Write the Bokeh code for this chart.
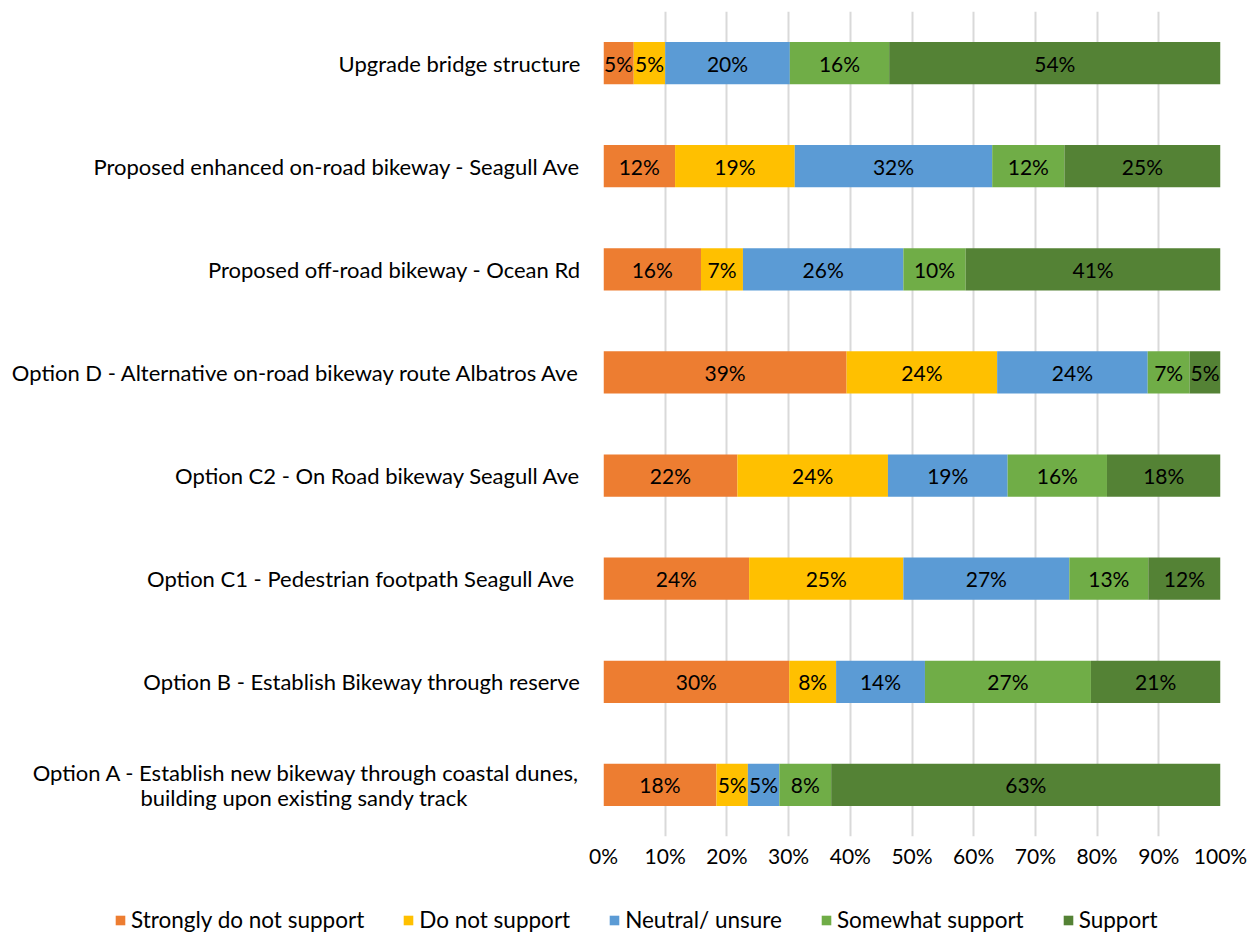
from bokeh.plotting import figure
from bokeh.layouts import column, row
from bokeh.models import (ColumnDataSource, FactorRange, Range1d, FixedTicker,
                          NumeralTickFormatter, Legend, LegendItem)
from bokeh.core.properties import value
from bokeh.embed import file_html
from bokeh.resources import INLINE

# ---- data (top to bottom as shown) ----
categories = [
    "Upgrade bridge structure",
    "Proposed enhanced on-road bikeway - Seagull Ave",
    "Proposed off-road bikeway - Ocean Rd",
    "Option D - Alternative on-road bikeway route Albatros Ave",
    "Option C2 - On Road bikeway Seagull Ave",
    "Option C1 -  Pedestrian footpath Seagull Ave",
    "Option B - Establish Bikeway through reserve",
    "Option A - Establish new bikeway through coastal dunes,\nbuilding upon existing sandy track" + "\u00a0" * 20,
]
series_names = ["Strongly do not support", "Do not support", "Neutral/ unsure",
                "Somewhat support", "Support"]
strongly_not = [4.9, 11.6, 15.8, 39.4, 21.7, 23.6, 30.1, 18.3]
not_support = [5.1, 19.4, 6.8, 24.4, 24.4, 25.0, 7.6, 5.1]
neutral = [20.2, 32.0, 26.0, 24.4, 19.4, 26.9, 14.4, 5.1]
somewhat = [16.1, 11.7, 10.1, 6.8, 16.1, 12.8, 26.9, 8.4]
support = [53.7, 25.3, 41.3, 5.0, 18.4, 11.7, 21.0, 63.1]
x_ticks = [0, 0.1, 0.2, 0.3, 0.4, 0.5, 0.6, 0.7, 0.8, 0.9, 1.0]

colors = ["#ED7D31", "#FFC000", "#5B9BD5", "#70AD47", "#548235"]
FONT = "Lato"
series = [strongly_not, not_support, neutral, somewhat, support]

totals = [sum(s[i] for s in series) for i in range(len(categories))]

p = figure(width=1250, height=880,
           y_range=FactorRange(factors=list(reversed(categories))),
           x_range=Range1d(0, 1),
           output_backend="svg", toolbar_location=None,
           min_border_left=603, min_border_right=30, min_border_top=11,
           min_border_bottom=44)
p.outline_line_color = None
p.background_fill_color = "white"

left = [0.0] * len(categories)
for name, vals, col in zip(series_names, series, colors):
    frac = [v / t for v, t in zip(vals, totals)]
    right = [l + f for l, f in zip(left, frac)]
    src = ColumnDataSource(dict(cat=categories, left=left, right=right,
                                mid=[(l + r) / 2 for l, r in zip(left, right)],
                                lab=[f"{round(v)}%" for v in vals]))
    p.hbar(y="cat", left="left", right="right", height=0.41, source=src,
           fill_color=col, line_color=None)
    p.text(x="mid", y="cat", text="lab", source=src, text_align="center",
           text_baseline="middle", text_font=value(FONT),
           text_font_size="21px", text_color="#000000")
    left = right

# axes
p.xaxis.ticker = FixedTicker(ticks=x_ticks)
p.xaxis.formatter = NumeralTickFormatter(format="0%")
p.xgrid.ticker = FixedTicker(ticks=x_ticks)
p.xgrid.grid_line_color = "#d9d9d9"
p.xgrid.grid_line_width = 2
p.ygrid.grid_line_color = None
for ax in (p.xaxis, p.yaxis):
    ax.axis_line_color = None
    ax.major_tick_line_color = None
    ax.minor_tick_line_color = None
    ax.major_label_text_font = FONT
    ax.major_label_text_color = "#000000"
p.xaxis.major_label_text_font_size = "21px"
p.yaxis.major_label_text_font_size = "22px"
p.yaxis.major_label_text_line_height = 0.95
p.xaxis.major_label_standoff = 0
p.yaxis.major_label_standoff = 17

# ---- legend strip (separate small figure) ----
lg = figure(width=1250, height=53, x_range=Range1d(0, 1), y_range=Range1d(0, 1),
            output_backend="svg", toolbar_location=None,
            min_border_left=0, min_border_right=0, min_border_top=0,
            min_border_bottom=0)
lg.axis.visible = False
lg.grid.visible = False
lg.outline_line_color = None
items = []
for name, col in zip(series_names, colors):
    # swatch-only renderer: a zero-width bar, nothing is drawn in the plot
    r = lg.hbar(y=[-5], left=[0], right=[0], height=0.5, fill_color=col,
                line_color=None)
    items.append(LegendItem(label=name, renderers=[r]))
legend = Legend(items=items, orientation="horizontal", location=(114, 0),
                label_text_font=FONT, label_text_font_size="22.5px",
                label_text_color="#000000", glyph_width=12, glyph_height=12,
                label_standoff=5, spacing=38, padding=0, margin=0,
                border_line_color=None, background_fill_alpha=0)
lg.add_layout(legend)

open("out.html", "w").write(file_html(column(p, row(lg)), INLINE))
